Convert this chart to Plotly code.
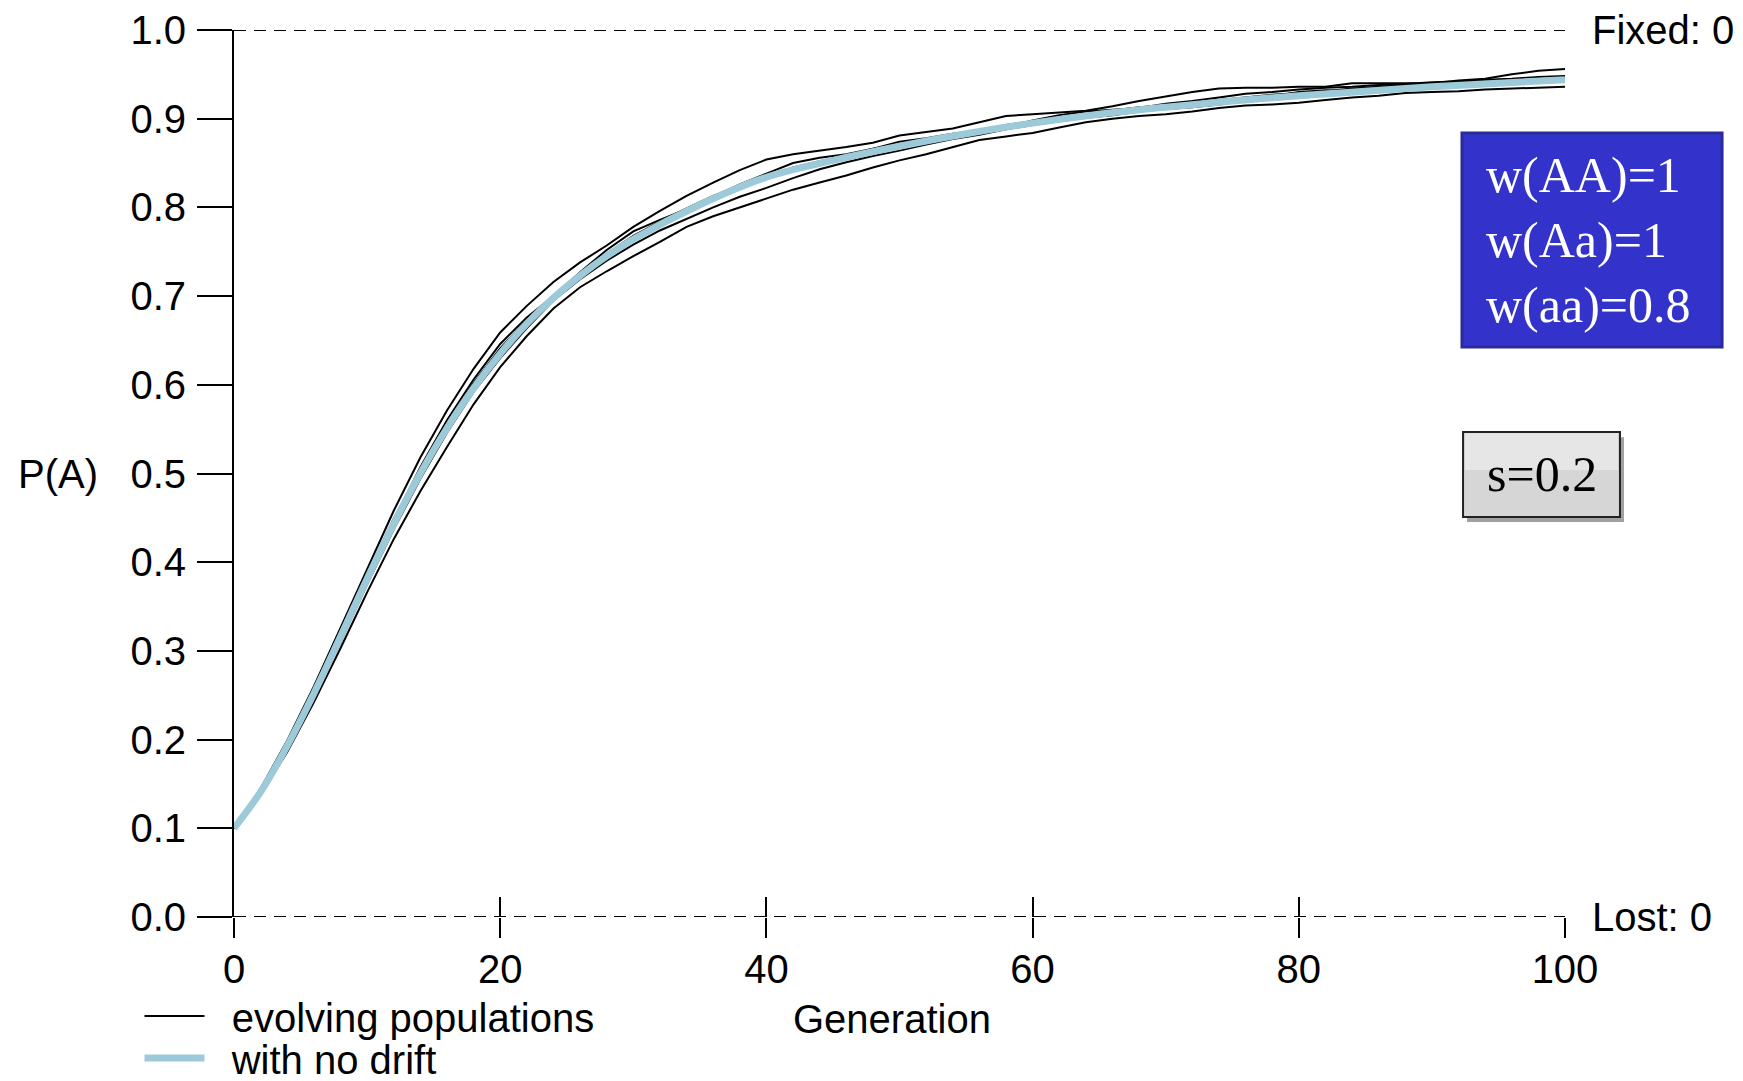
import plotly.graph_objects as go

# ---------------- data ----------------
gens_drift = list(range(0, 101, 2))

pop1 = [.100, .145, .199, .260, .326, .393, .458, .518, .571, .618, .659, .689, .716, .738, .757, .778,
        .796, .813, .828, .842, .854, .860, .864, .868, .873, .881, .885, .889, .896, .903, .905, .907,
        .909, .914, .920, .925, .930, .934, .935, .935, .936, .936, .940, .940, .940, .940, .943, .945,
        .950, .954, .956]
pop2 = [.100, .138, .186, .242, .303, .366, .426, .480, .530, .578, .620, .655, .686, .710, .728, .745,
        .761, .778, .790, .800, .810, .820, .828, .836, .845, .853, .860, .868, .876, .880, .884, .890,
        .896, .900, .903, .905, .908, .912, .915, .916, .918, .921, .924, .926, .929, .930, .931, .933,
        .934, .935, .936]
pop3 = [.100, .143, .196, .256, .318, .384, .447, .507, .560, .606, .646, .676, .700, .727, .752, .773,
        .786, .798, .812, .826, .838, .850, .856, .860, .866, .870, .873, .878, .884, .890, .898, .904,
        .908, .910, .912, .917, .920, .924, .928, .930, .933, .935, .936, .938, .939, .941, .942, .944,
        .945, .947, .948]
pop4 = [.100, .140, .190, .248, .310, .375, .437, .494, .546, .592, .630, .664, .695, .719, .740, .758,
        .774, .787, .800, .812, .822, .833, .843, .851, .858, .864, .871, .877, .882, .888, .893, .897,
        .901, .904, .908, .911, .913, .916, .920, .925, .930, .932, .931, .930, .932, .935, .938, .940,
        .941, .942, .943]
pop5 = [.100, .142, .195, .254, .320, .386, .449, .504, .556, .602, .641, .673, .700, .724, .748, .768,
        .784, .799, .813, .824, .834, .845, .852, .858, .866, .874, .878, .883, .887, .893, .897, .901,
        .905, .909, .913, .915, .918, .921, .924, .927, .929, .931, .934, .936, .938, .939, .941, .942,
        .943, .944, .946]
populations = [pop1, pop2, pop3, pop4, pop5]

gens_nodrift = [0, 2, 4, 6, 8, 10, 12, 14, 16, 18, 20, 22, 24, 26, 28, 30, 35, 40, 45, 50,
                55, 60, 65, 70, 75, 80, 85, 90, 95, 100]
p_nodrift = [.100, .141, .193, .252, .316, .381, .443, .500, .551, .596, .635, .669, .698, .723, .745,
             .764, .803, .834, .853, .869, .883, .895, .905, .913, .920, .926, .931, .936, .940, .944]

x_ticks = [0, 20, 40, 60, 80, 100]
y_ticks = [0.0, 0.1, 0.2, 0.3, 0.4, 0.5, 0.6, 0.7, 0.8, 0.9, 1.0]

legend_drift = "evolving populations"
legend_nodrift = "with no drift"
fitness_text = "w(AA)=1<br>w(Aa)=1<br>w(aa)=0.8"
s_text = "s=0.2"

# ---------------- figure ----------------
SANS = "Liberation Sans, Arial, sans-serif"
SERIF = "Liberation Serif, Times New Roman, serif"
FS = 40
NB = "\u00a0\u00a0"

fig = go.Figure()
for i, pop in enumerate(populations):
    fig.add_trace(go.Scatter(
        x=gens_drift, y=pop, mode="lines",
        line=dict(color="black", width=2),
        name=NB + legend_drift, showlegend=(i == 0), legend="legend",
        hoverinfo="skip",
    ))
fig.add_trace(go.Scatter(
    x=gens_nodrift, y=p_nodrift, mode="lines", xaxis="x2",
    line=dict(color="#9ccad8", width=7, shape="spline"),
    name=NB + legend_nodrift, legend="legend2", hoverinfo="skip",
))

# page body has an 8px margin: plot area sits at screen x 234..1565, y 30..917
fig.update_layout(
    width=1743, height=1081,
    paper_bgcolor="white", plot_bgcolor="white",
    margin=dict(l=226, r=186, t=22, b=172, autoexpand=False),
    font=dict(family=SANS, size=FS, color="black"),
    xaxis=dict(
        range=[0, 100], tickvals=x_ticks, ticks="outside", ticklen=20, tickwidth=2,
        tickcolor="black", showline=False, showgrid=False, zeroline=False,
        tickfont=dict(size=FS), ticklabelstandoff=-3, automargin=False,
    ),
    xaxis2=dict(
        overlaying="x", matches="x", anchor="y", side="bottom",
        range=[0, 100], tickvals=x_ticks, ticks="inside", ticklen=20, tickwidth=2,
        tickcolor="black", showticklabels=False, showline=False, showgrid=False,
        zeroline=False,
    ),
    yaxis=dict(
        range=[0, 1], tickvals=y_ticks, tickformat=".1f", ticks="outside", ticklen=35,
        tickwidth=2, tickcolor="black", showline=True, linecolor="black", linewidth=2,
        showgrid=False, zeroline=False, tickfont=dict(size=FS), ticklabelstandoff=3,
        automargin=False,
    ),
    legend=dict(
        x=-0.071, y=-0.1116, xanchor="left", yanchor="middle",
        font=dict(size=FS), itemwidth=60, bgcolor="rgba(0,0,0,0)",
    ),
    legend2=dict(
        x=-0.071, y=-0.159, xanchor="left", yanchor="middle",
        font=dict(size=FS), itemwidth=60, bgcolor="rgba(0,0,0,0)",
    ),
    showlegend=True,
)

# dashed boundary lines at P=0 and P=1
for yv in (0, 1):
    fig.add_shape(type="line", xref="x domain", yref="y", x0=0, x1=1, y0=yv, y1=yv,
                  line=dict(color="black", width=2, dash="12px,8px"), layer="below")

# axis titles and side labels
fig.add_annotation(text="P(A)", xref="paper", yref="paper", x=-0.164, y=0.5,
                   xanchor="left", yanchor="middle", showarrow=False, font=dict(size=FS))
fig.add_annotation(text="Generation", xref="paper", yref="paper", x=0.494, y=-0.115,
                   xanchor="center", yanchor="middle", showarrow=False, font=dict(size=FS))
fig.add_annotation(text="Fixed: 0", xref="paper", yref="paper", x=1.019, y=1.0,
                   xanchor="left", yanchor="middle", showarrow=False, font=dict(size=FS))
fig.add_annotation(text="Lost: 0", xref="paper", yref="paper", x=1.019, y=0.0,
                   xanchor="left", yanchor="middle", showarrow=False, font=dict(size=FS))

# fitness box (blue)
fig.add_shape(type="rect", xref="paper", yref="paper", x0=0.9226, x1=1.1180, y0=0.6426, y1=0.8839,
              fillcolor="#3333cc", line=dict(color="#2a2a9a", width=3), layer="above")
fig.add_annotation(text=fitness_text, xref="paper", yref="paper", x=0.9391, y=0.763,
                   xanchor="left", yanchor="middle", showarrow=False, align="left",
                   font=dict(family=SERIF, size=50, color="white"))

# s box (grey, with drop shadow)
fig.add_shape(type="rect", xref="paper", yref="paper", x0=0.9264, x1=1.0443, y0=0.4452, y1=0.5410,
              fillcolor="#a0a0a0", line=dict(width=0), layer="above")
fig.add_shape(type="rect", xref="paper", yref="paper", x0=0.9234, x1=1.0413, y0=0.4510, y1=0.5468,
              fillcolor="#d6d6d6", line=dict(color="#222222", width=2), layer="above")
fig.add_shape(type="rect", xref="paper", yref="paper", x0=0.9249, x1=1.0398, y0=0.5040, y1=0.5453,
              fillcolor="#e6e6e6", line=dict(width=0), layer="above")
fig.add_annotation(text=s_text, xref="paper", yref="paper", x=0.9824, y=0.4994,
                   xanchor="center", yanchor="middle", showarrow=False,
                   font=dict(family=SERIF, size=50, color="black"))

fig.write_html("out.html")
